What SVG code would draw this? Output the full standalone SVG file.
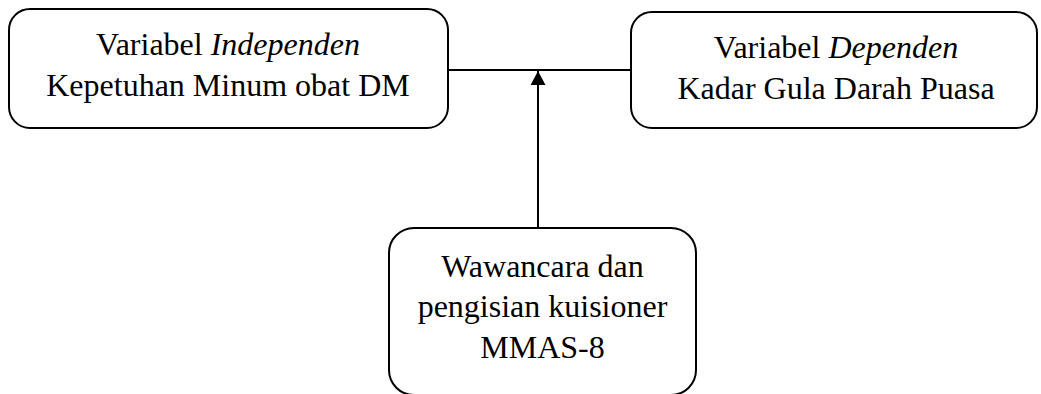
<svg xmlns="http://www.w3.org/2000/svg" width="1041" height="394" viewBox="0 0 1041 394">
<defs>
<style>
.box{fill:#fff;stroke:#000;stroke-width:2}
.t{font-family:"Liberation Serif","Times New Roman",serif;font-size:32px;fill:#000;text-anchor:middle}
.i{font-style:italic}
.ln{stroke:#000;stroke-width:2;fill:none}
</style>
<marker id="ah" markerWidth="16" markerHeight="15" refX="15" refY="8" orient="auto" markerUnits="userSpaceOnUse" viewBox="0 0 16 16">
<path d="M0,0 L15,8 L0,16 Z" fill="#000"/>
</marker>
</defs>
<rect width="1041" height="394" fill="#fff"/>
<g id="connectors">
<line class="ln" x1="448" y1="70" x2="631" y2="70"/>
<line class="ln" x1="538" y1="228" x2="538" y2="71" marker-end="url(#ah)"/>
</g>
<g id="node-independen">
<rect class="box" x="9" y="9" width="439" height="119" rx="21"/>
<text class="t" x="228" y="55">Variabel <tspan class="i">Independen</tspan></text>
<text class="t" x="228" y="96">Kepetuhan Minum obat DM</text>
</g>
<g id="node-dependen">
<rect class="box" x="631" y="12" width="406" height="116" rx="21"/>
<text class="t" x="836" y="58">Variabel <tspan class="i">Dependen</tspan></text>
<text class="t" x="836" y="99">Kadar Gula Darah Puasa</text>
</g>
<g id="node-wawancara">
<rect class="box" x="389" y="228" width="307" height="167" rx="25"/>
<text class="t" x="542.5" y="277">Wawancara dan</text>
<text class="t" x="542.5" y="317">pengisian kuisioner</text>
<text class="t" x="542.5" y="358">MMAS-8</text>
</g>
</svg>
